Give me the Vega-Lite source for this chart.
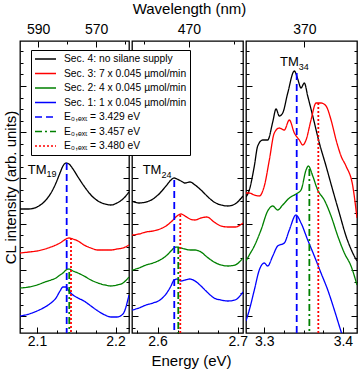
{
"$schema": "https://vega.github.io/schema/vega-lite/v6.json",
"padding": {"left": 2, "top": 0, "right": 2, "bottom": 0},
"spacing": 3,
"bounds": "flush",
"config": {
  "font": "Liberation Sans",
  "view": {"stroke": "black", "strokeWidth": 1.3},
  "axis": {"domain": false, "grid": false, "tickColor": "black", "tickWidth": 1, "labelColor": "black", "titleColor": "black", "labelFontSize": 14, "titleFontSize": 15, "titleFontWeight": "normal", "labelFlush": false, "labelOverlap": false, "labelBound": false},
  "legend": {"orient": "none", "legendX": 11, "legendY": 9, "fillColor": "white", "strokeColor": "black", "padding": 3, "symbolType": "stroke", "symbolSize": 441, "symbolStrokeWidth": 1.5, "labelFont": "Liberation Sans", "labelFontSize": 10.3, "labelColor": "black", "labelOffset": 7, "clipHeight": 12, "rowPadding": 2.5, "labelLimit": 250}
},
"datasets": {
"curves": [
{"p":1,"s":"Sec. 4: no silane supply","E":2.0784,"I":124},{"p":1,"s":"Sec. 4: no silane supply","E":2.0898,"I":124},{"p":1,"s":"Sec. 4: no silane supply","E":2.1,"I":126},{"p":1,"s":"Sec. 4: no silane supply","E":2.1102,"I":132},{"p":1,"s":"Sec. 4: no silane supply","E":2.1178,"I":140},{"p":1,"s":"Sec. 4: no silane supply","E":2.1242,"I":150},{"p":1,"s":"Sec. 4: no silane supply","E":2.1293,"I":160},{"p":1,"s":"Sec. 4: no silane supply","E":2.1331,"I":167},{"p":1,"s":"Sec. 4: no silane supply","E":2.1369,"I":170},{"p":1,"s":"Sec. 4: no silane supply","E":2.1407,"I":169},{"p":1,"s":"Sec. 4: no silane supply","E":2.1458,"I":164},{"p":1,"s":"Sec. 4: no silane supply","E":2.1522,"I":156},{"p":1,"s":"Sec. 4: no silane supply","E":2.1598,"I":147},{"p":1,"s":"Sec. 4: no silane supply","E":2.1687,"I":138},{"p":1,"s":"Sec. 4: no silane supply","E":2.1776,"I":132},{"p":1,"s":"Sec. 4: no silane supply","E":2.1865,"I":129},{"p":1,"s":"Sec. 4: no silane supply","E":2.1942,"I":128},{"p":1,"s":"Sec. 4: no silane supply","E":2.2018,"I":130},{"p":1,"s":"Sec. 4: no silane supply","E":2.2094,"I":134},{"p":1,"s":"Sec. 4: no silane supply","E":2.2171,"I":141},
{"p":1,"s":"Sec. 3: 7 x 0.045 µmol/min","E":2.0784,"I":80},{"p":1,"s":"Sec. 3: 7 x 0.045 µmol/min","E":2.0898,"I":81},{"p":1,"s":"Sec. 3: 7 x 0.045 µmol/min","E":2.1,"I":82},{"p":1,"s":"Sec. 3: 7 x 0.045 µmol/min","E":2.1102,"I":84},{"p":1,"s":"Sec. 3: 7 x 0.045 µmol/min","E":2.1178,"I":86},{"p":1,"s":"Sec. 3: 7 x 0.045 µmol/min","E":2.1242,"I":88},{"p":1,"s":"Sec. 3: 7 x 0.045 µmol/min","E":2.1293,"I":90},{"p":1,"s":"Sec. 3: 7 x 0.045 µmol/min","E":2.1331,"I":92},{"p":1,"s":"Sec. 3: 7 x 0.045 µmol/min","E":2.1369,"I":94},{"p":1,"s":"Sec. 3: 7 x 0.045 µmol/min","E":2.1407,"I":95},{"p":1,"s":"Sec. 3: 7 x 0.045 µmol/min","E":2.1458,"I":94},{"p":1,"s":"Sec. 3: 7 x 0.045 µmol/min","E":2.1522,"I":92},{"p":1,"s":"Sec. 3: 7 x 0.045 µmol/min","E":2.1598,"I":88},{"p":1,"s":"Sec. 3: 7 x 0.045 µmol/min","E":2.1687,"I":85},{"p":1,"s":"Sec. 3: 7 x 0.045 µmol/min","E":2.1776,"I":83},{"p":1,"s":"Sec. 3: 7 x 0.045 µmol/min","E":2.1865,"I":83},{"p":1,"s":"Sec. 3: 7 x 0.045 µmol/min","E":2.1942,"I":83},{"p":1,"s":"Sec. 3: 7 x 0.045 µmol/min","E":2.2018,"I":84},{"p":1,"s":"Sec. 3: 7 x 0.045 µmol/min","E":2.2094,"I":85},{"p":1,"s":"Sec. 3: 7 x 0.045 µmol/min","E":2.2171,"I":88},
{"p":1,"s":"Sec. 2: 4 x 0.045 µmol/min","E":2.0784,"I":45},{"p":1,"s":"Sec. 2: 4 x 0.045 µmol/min","E":2.0898,"I":46},{"p":1,"s":"Sec. 2: 4 x 0.045 µmol/min","E":2.1,"I":48},{"p":1,"s":"Sec. 2: 4 x 0.045 µmol/min","E":2.1102,"I":51},{"p":1,"s":"Sec. 2: 4 x 0.045 µmol/min","E":2.1178,"I":53},{"p":1,"s":"Sec. 2: 4 x 0.045 µmol/min","E":2.1242,"I":55},{"p":1,"s":"Sec. 2: 4 x 0.045 µmol/min","E":2.1293,"I":58},{"p":1,"s":"Sec. 2: 4 x 0.045 µmol/min","E":2.1331,"I":60},{"p":1,"s":"Sec. 2: 4 x 0.045 µmol/min","E":2.1369,"I":63},{"p":1,"s":"Sec. 2: 4 x 0.045 µmol/min","E":2.1407,"I":64},{"p":1,"s":"Sec. 2: 4 x 0.045 µmol/min","E":2.1458,"I":62},{"p":1,"s":"Sec. 2: 4 x 0.045 µmol/min","E":2.1522,"I":60},{"p":1,"s":"Sec. 2: 4 x 0.045 µmol/min","E":2.1598,"I":57},{"p":1,"s":"Sec. 2: 4 x 0.045 µmol/min","E":2.1687,"I":53},{"p":1,"s":"Sec. 2: 4 x 0.045 µmol/min","E":2.1776,"I":50},{"p":1,"s":"Sec. 2: 4 x 0.045 µmol/min","E":2.1865,"I":48},{"p":1,"s":"Sec. 2: 4 x 0.045 µmol/min","E":2.1942,"I":47},{"p":1,"s":"Sec. 2: 4 x 0.045 µmol/min","E":2.2018,"I":48},{"p":1,"s":"Sec. 2: 4 x 0.045 µmol/min","E":2.2094,"I":50},{"p":1,"s":"Sec. 2: 4 x 0.045 µmol/min","E":2.2171,"I":56},
{"p":1,"s":"Sec. 1: 1 x 0.045 µmol/min","E":2.0784,"I":17},{"p":1,"s":"Sec. 1: 1 x 0.045 µmol/min","E":2.0898,"I":19},{"p":1,"s":"Sec. 1: 1 x 0.045 µmol/min","E":2.1,"I":22},{"p":1,"s":"Sec. 1: 1 x 0.045 µmol/min","E":2.1102,"I":26},{"p":1,"s":"Sec. 1: 1 x 0.045 µmol/min","E":2.1178,"I":30},{"p":1,"s":"Sec. 1: 1 x 0.045 µmol/min","E":2.1242,"I":35},{"p":1,"s":"Sec. 1: 1 x 0.045 µmol/min","E":2.1293,"I":42},{"p":1,"s":"Sec. 1: 1 x 0.045 µmol/min","E":2.1331,"I":46},{"p":1,"s":"Sec. 1: 1 x 0.045 µmol/min","E":2.1369,"I":46},{"p":1,"s":"Sec. 1: 1 x 0.045 µmol/min","E":2.1407,"I":42},{"p":1,"s":"Sec. 1: 1 x 0.045 µmol/min","E":2.1458,"I":38},{"p":1,"s":"Sec. 1: 1 x 0.045 µmol/min","E":2.1522,"I":35},{"p":1,"s":"Sec. 1: 1 x 0.045 µmol/min","E":2.1598,"I":32},{"p":1,"s":"Sec. 1: 1 x 0.045 µmol/min","E":2.1687,"I":27},{"p":1,"s":"Sec. 1: 1 x 0.045 µmol/min","E":2.1776,"I":22},{"p":1,"s":"Sec. 1: 1 x 0.045 µmol/min","E":2.1865,"I":18},{"p":1,"s":"Sec. 1: 1 x 0.045 µmol/min","E":2.1942,"I":16},{"p":1,"s":"Sec. 1: 1 x 0.045 µmol/min","E":2.2018,"I":16},{"p":1,"s":"Sec. 1: 1 x 0.045 µmol/min","E":2.2094,"I":19},{"p":1,"s":"Sec. 1: 1 x 0.045 µmol/min","E":2.2171,"I":38},
{"p":2,"s":"Sec. 4: no silane supply","E":2.5682,"I":132},{"p":2,"s":"Sec. 4: no silane supply","E":2.5769,"I":130},{"p":2,"s":"Sec. 4: no silane supply","E":2.5857,"I":131},{"p":2,"s":"Sec. 4: no silane supply","E":2.5944,"I":134},{"p":2,"s":"Sec. 4: no silane supply","E":2.6031,"I":140},{"p":2,"s":"Sec. 4: no silane supply","E":2.6106,"I":147},{"p":2,"s":"Sec. 4: no silane supply","E":2.6168,"I":153},{"p":2,"s":"Sec. 4: no silane supply","E":2.6206,"I":155},{"p":2,"s":"Sec. 4: no silane supply","E":2.6243,"I":154},{"p":2,"s":"Sec. 4: no silane supply","E":2.6293,"I":152},{"p":2,"s":"Sec. 4: no silane supply","E":2.6343,"I":150},{"p":2,"s":"Sec. 4: no silane supply","E":2.6405,"I":151},{"p":2,"s":"Sec. 4: no silane supply","E":2.6468,"I":148},{"p":2,"s":"Sec. 4: no silane supply","E":2.6542,"I":143},{"p":2,"s":"Sec. 4: no silane supply","E":2.6617,"I":137},{"p":2,"s":"Sec. 4: no silane supply","E":2.6705,"I":131},{"p":2,"s":"Sec. 4: no silane supply","E":2.6792,"I":128},{"p":2,"s":"Sec. 4: no silane supply","E":2.6879,"I":127},{"p":2,"s":"Sec. 4: no silane supply","E":2.6966,"I":129},{"p":2,"s":"Sec. 4: no silane supply","E":2.7066,"I":137},
{"p":2,"s":"Sec. 3: 7 x 0.045 µmol/min","E":2.5682,"I":98},{"p":2,"s":"Sec. 3: 7 x 0.045 µmol/min","E":2.5769,"I":99},{"p":2,"s":"Sec. 3: 7 x 0.045 µmol/min","E":2.5857,"I":101},{"p":2,"s":"Sec. 3: 7 x 0.045 µmol/min","E":2.5944,"I":102},{"p":2,"s":"Sec. 3: 7 x 0.045 µmol/min","E":2.6031,"I":104},{"p":2,"s":"Sec. 3: 7 x 0.045 µmol/min","E":2.6106,"I":107},{"p":2,"s":"Sec. 3: 7 x 0.045 µmol/min","E":2.6168,"I":111},{"p":2,"s":"Sec. 3: 7 x 0.045 µmol/min","E":2.6206,"I":114},{"p":2,"s":"Sec. 3: 7 x 0.045 µmol/min","E":2.6243,"I":117},{"p":2,"s":"Sec. 3: 7 x 0.045 µmol/min","E":2.6293,"I":119},{"p":2,"s":"Sec. 3: 7 x 0.045 µmol/min","E":2.6343,"I":117},{"p":2,"s":"Sec. 3: 7 x 0.045 µmol/min","E":2.6405,"I":114},{"p":2,"s":"Sec. 3: 7 x 0.045 µmol/min","E":2.6468,"I":113},{"p":2,"s":"Sec. 3: 7 x 0.045 µmol/min","E":2.6542,"I":115},{"p":2,"s":"Sec. 3: 7 x 0.045 µmol/min","E":2.6617,"I":116},{"p":2,"s":"Sec. 3: 7 x 0.045 µmol/min","E":2.6705,"I":111},{"p":2,"s":"Sec. 3: 7 x 0.045 µmol/min","E":2.6792,"I":107},{"p":2,"s":"Sec. 3: 7 x 0.045 µmol/min","E":2.6879,"I":106},{"p":2,"s":"Sec. 3: 7 x 0.045 µmol/min","E":2.6966,"I":106},{"p":2,"s":"Sec. 3: 7 x 0.045 µmol/min","E":2.7066,"I":110},
{"p":2,"s":"Sec. 2: 4 x 0.045 µmol/min","E":2.5682,"I":63},{"p":2,"s":"Sec. 2: 4 x 0.045 µmol/min","E":2.5769,"I":65},{"p":2,"s":"Sec. 2: 4 x 0.045 µmol/min","E":2.5857,"I":68},{"p":2,"s":"Sec. 2: 4 x 0.045 µmol/min","E":2.5944,"I":70},{"p":2,"s":"Sec. 2: 4 x 0.045 µmol/min","E":2.6031,"I":73},{"p":2,"s":"Sec. 2: 4 x 0.045 µmol/min","E":2.6106,"I":77},{"p":2,"s":"Sec. 2: 4 x 0.045 µmol/min","E":2.6168,"I":82},{"p":2,"s":"Sec. 2: 4 x 0.045 µmol/min","E":2.6206,"I":85},{"p":2,"s":"Sec. 2: 4 x 0.045 µmol/min","E":2.6243,"I":86},{"p":2,"s":"Sec. 2: 4 x 0.045 µmol/min","E":2.6293,"I":85},{"p":2,"s":"Sec. 2: 4 x 0.045 µmol/min","E":2.6343,"I":84},{"p":2,"s":"Sec. 2: 4 x 0.045 µmol/min","E":2.6405,"I":83},{"p":2,"s":"Sec. 2: 4 x 0.045 µmol/min","E":2.6468,"I":83},{"p":2,"s":"Sec. 2: 4 x 0.045 µmol/min","E":2.6542,"I":81},{"p":2,"s":"Sec. 2: 4 x 0.045 µmol/min","E":2.6617,"I":76},{"p":2,"s":"Sec. 2: 4 x 0.045 µmol/min","E":2.6705,"I":71},{"p":2,"s":"Sec. 2: 4 x 0.045 µmol/min","E":2.6792,"I":68},{"p":2,"s":"Sec. 2: 4 x 0.045 µmol/min","E":2.6879,"I":67},{"p":2,"s":"Sec. 2: 4 x 0.045 µmol/min","E":2.6966,"I":68},{"p":2,"s":"Sec. 2: 4 x 0.045 µmol/min","E":2.7066,"I":75},
{"p":2,"s":"Sec. 1: 1 x 0.045 µmol/min","E":2.5682,"I":23},{"p":2,"s":"Sec. 1: 1 x 0.045 µmol/min","E":2.5769,"I":25},{"p":2,"s":"Sec. 1: 1 x 0.045 µmol/min","E":2.5857,"I":28},{"p":2,"s":"Sec. 1: 1 x 0.045 µmol/min","E":2.5944,"I":30},{"p":2,"s":"Sec. 1: 1 x 0.045 µmol/min","E":2.6031,"I":33},{"p":2,"s":"Sec. 1: 1 x 0.045 µmol/min","E":2.6106,"I":39},{"p":2,"s":"Sec. 1: 1 x 0.045 µmol/min","E":2.6168,"I":47},{"p":2,"s":"Sec. 1: 1 x 0.045 µmol/min","E":2.6206,"I":53},{"p":2,"s":"Sec. 1: 1 x 0.045 µmol/min","E":2.6243,"I":54},{"p":2,"s":"Sec. 1: 1 x 0.045 µmol/min","E":2.6293,"I":52},{"p":2,"s":"Sec. 1: 1 x 0.045 µmol/min","E":2.6343,"I":53},{"p":2,"s":"Sec. 1: 1 x 0.045 µmol/min","E":2.6405,"I":54},{"p":2,"s":"Sec. 1: 1 x 0.045 µmol/min","E":2.6468,"I":52},{"p":2,"s":"Sec. 1: 1 x 0.045 µmol/min","E":2.6542,"I":47},{"p":2,"s":"Sec. 1: 1 x 0.045 µmol/min","E":2.6617,"I":41},{"p":2,"s":"Sec. 1: 1 x 0.045 µmol/min","E":2.6705,"I":35},{"p":2,"s":"Sec. 1: 1 x 0.045 µmol/min","E":2.6792,"I":33},{"p":2,"s":"Sec. 1: 1 x 0.045 µmol/min","E":2.6879,"I":32},{"p":2,"s":"Sec. 1: 1 x 0.045 µmol/min","E":2.6966,"I":33},{"p":2,"s":"Sec. 1: 1 x 0.045 µmol/min","E":2.7066,"I":41},
{"p":3,"s":"Sec. 4: no silane supply","E":3.2767,"I":136},{"p":3,"s":"Sec. 4: no silane supply","E":3.2809,"I":143},{"p":3,"s":"Sec. 4: no silane supply","E":3.2873,"I":167},{"p":3,"s":"Sec. 4: no silane supply","E":3.2916,"I":187},{"p":3,"s":"Sec. 4: no silane supply","E":3.298,"I":193},{"p":3,"s":"Sec. 4: no silane supply","E":3.3043,"I":193},{"p":3,"s":"Sec. 4: no silane supply","E":3.3107,"I":211},{"p":3,"s":"Sec. 4: no silane supply","E":3.3149,"I":224},{"p":3,"s":"Sec. 4: no silane supply","E":3.3191,"I":217},{"p":3,"s":"Sec. 4: no silane supply","E":3.3234,"I":220},{"p":3,"s":"Sec. 4: no silane supply","E":3.3298,"I":240},{"p":3,"s":"Sec. 4: no silane supply","E":3.3382,"I":262},{"p":3,"s":"Sec. 4: no silane supply","E":3.3425,"I":254},{"p":3,"s":"Sec. 4: no silane supply","E":3.3467,"I":245},{"p":3,"s":"Sec. 4: no silane supply","E":3.3509,"I":250},{"p":3,"s":"Sec. 4: no silane supply","E":3.3552,"I":237},{"p":3,"s":"Sec. 4: no silane supply","E":3.3616,"I":217},{"p":3,"s":"Sec. 4: no silane supply","E":3.37,"I":190},{"p":3,"s":"Sec. 4: no silane supply","E":3.3785,"I":167},{"p":3,"s":"Sec. 4: no silane supply","E":3.387,"I":143},{"p":3,"s":"Sec. 4: no silane supply","E":3.3954,"I":120},{"p":3,"s":"Sec. 4: no silane supply","E":3.4039,"I":97},{"p":3,"s":"Sec. 4: no silane supply","E":3.4125,"I":80},{"p":3,"s":"Sec. 4: no silane supply","E":3.4179,"I":72},
{"p":3,"s":"Sec. 3: 7 x 0.045 µmol/min","E":3.2767,"I":140},{"p":3,"s":"Sec. 3: 7 x 0.045 µmol/min","E":3.2809,"I":140},{"p":3,"s":"Sec. 3: 7 x 0.045 µmol/min","E":3.2873,"I":138},{"p":3,"s":"Sec. 3: 7 x 0.045 µmol/min","E":3.2936,"I":137},{"p":3,"s":"Sec. 3: 7 x 0.045 µmol/min","E":3.3,"I":147},{"p":3,"s":"Sec. 3: 7 x 0.045 µmol/min","E":3.3064,"I":173},{"p":3,"s":"Sec. 3: 7 x 0.045 µmol/min","E":3.3127,"I":200},{"p":3,"s":"Sec. 3: 7 x 0.045 µmol/min","E":3.3191,"I":205},{"p":3,"s":"Sec. 3: 7 x 0.045 µmol/min","E":3.3254,"I":203},{"p":3,"s":"Sec. 3: 7 x 0.045 µmol/min","E":3.3318,"I":213},{"p":3,"s":"Sec. 3: 7 x 0.045 µmol/min","E":3.3382,"I":200},{"p":3,"s":"Sec. 3: 7 x 0.045 µmol/min","E":3.3445,"I":193},{"p":3,"s":"Sec. 3: 7 x 0.045 µmol/min","E":3.3489,"I":188},{"p":3,"s":"Sec. 3: 7 x 0.045 µmol/min","E":3.3531,"I":193},{"p":3,"s":"Sec. 3: 7 x 0.045 µmol/min","E":3.3594,"I":213},{"p":3,"s":"Sec. 3: 7 x 0.045 µmol/min","E":3.3658,"I":230},{"p":3,"s":"Sec. 3: 7 x 0.045 µmol/min","E":3.3721,"I":230},{"p":3,"s":"Sec. 3: 7 x 0.045 µmol/min","E":3.3785,"I":227},{"p":3,"s":"Sec. 3: 7 x 0.045 µmol/min","E":3.3849,"I":213},{"p":3,"s":"Sec. 3: 7 x 0.045 µmol/min","E":3.3913,"I":193},{"p":3,"s":"Sec. 3: 7 x 0.045 µmol/min","E":3.3976,"I":177},{"p":3,"s":"Sec. 3: 7 x 0.045 µmol/min","E":3.4039,"I":167},{"p":3,"s":"Sec. 3: 7 x 0.045 µmol/min","E":3.4125,"I":147},{"p":3,"s":"Sec. 3: 7 x 0.045 µmol/min","E":3.4179,"I":115},
{"p":3,"s":"Sec. 2: 4 x 0.045 µmol/min","E":3.2767,"I":72},{"p":3,"s":"Sec. 2: 4 x 0.045 µmol/min","E":3.2809,"I":78},{"p":3,"s":"Sec. 2: 4 x 0.045 µmol/min","E":3.2873,"I":87},{"p":3,"s":"Sec. 2: 4 x 0.045 µmol/min","E":3.2958,"I":103},{"p":3,"s":"Sec. 2: 4 x 0.045 µmol/min","E":3.3043,"I":122},{"p":3,"s":"Sec. 2: 4 x 0.045 µmol/min","E":3.3107,"I":127},{"p":3,"s":"Sec. 2: 4 x 0.045 µmol/min","E":3.317,"I":123},{"p":3,"s":"Sec. 2: 4 x 0.045 µmol/min","E":3.3234,"I":128},{"p":3,"s":"Sec. 2: 4 x 0.045 µmol/min","E":3.3318,"I":135},{"p":3,"s":"Sec. 2: 4 x 0.045 µmol/min","E":3.3403,"I":139},{"p":3,"s":"Sec. 2: 4 x 0.045 µmol/min","E":3.3467,"I":143},{"p":3,"s":"Sec. 2: 4 x 0.045 µmol/min","E":3.3531,"I":163},{"p":3,"s":"Sec. 2: 4 x 0.045 µmol/min","E":3.356,"I":167},{"p":3,"s":"Sec. 2: 4 x 0.045 µmol/min","E":3.3616,"I":157},{"p":3,"s":"Sec. 2: 4 x 0.045 µmol/min","E":3.3679,"I":143},{"p":3,"s":"Sec. 2: 4 x 0.045 µmol/min","E":3.3763,"I":133},{"p":3,"s":"Sec. 2: 4 x 0.045 µmol/min","E":3.3849,"I":117},{"p":3,"s":"Sec. 2: 4 x 0.045 µmol/min","E":3.3934,"I":97},{"p":3,"s":"Sec. 2: 4 x 0.045 µmol/min","E":3.4018,"I":80},{"p":3,"s":"Sec. 2: 4 x 0.045 µmol/min","E":3.4103,"I":67},{"p":3,"s":"Sec. 2: 4 x 0.045 µmol/min","E":3.4179,"I":48},
{"p":3,"s":"Sec. 1: 1 x 0.045 µmol/min","E":3.2767,"I":12},{"p":3,"s":"Sec. 1: 1 x 0.045 µmol/min","E":3.2809,"I":23},{"p":3,"s":"Sec. 1: 1 x 0.045 µmol/min","E":3.2873,"I":43},{"p":3,"s":"Sec. 1: 1 x 0.045 µmol/min","E":3.2936,"I":63},{"p":3,"s":"Sec. 1: 1 x 0.045 µmol/min","E":3.3,"I":70},{"p":3,"s":"Sec. 1: 1 x 0.045 µmol/min","E":3.3043,"I":67},{"p":3,"s":"Sec. 1: 1 x 0.045 µmol/min","E":3.3107,"I":77},{"p":3,"s":"Sec. 1: 1 x 0.045 µmol/min","E":3.317,"I":87},{"p":3,"s":"Sec. 1: 1 x 0.045 µmol/min","E":3.3254,"I":90},{"p":3,"s":"Sec. 1: 1 x 0.045 µmol/min","E":3.3318,"I":103},{"p":3,"s":"Sec. 1: 1 x 0.045 µmol/min","E":3.3403,"I":118},{"p":3,"s":"Sec. 1: 1 x 0.045 µmol/min","E":3.3467,"I":110},{"p":3,"s":"Sec. 1: 1 x 0.045 µmol/min","E":3.3552,"I":93},{"p":3,"s":"Sec. 1: 1 x 0.045 µmol/min","E":3.3636,"I":77},{"p":3,"s":"Sec. 1: 1 x 0.045 µmol/min","E":3.3721,"I":60},{"p":3,"s":"Sec. 1: 1 x 0.045 µmol/min","E":3.3807,"I":43},{"p":3,"s":"Sec. 1: 1 x 0.045 µmol/min","E":3.3891,"I":23},{"p":3,"s":"Sec. 1: 1 x 0.045 µmol/min","E":3.3954,"I":7},{"p":3,"s":"Sec. 1: 1 x 0.045 µmol/min","E":3.399,"I":-2}
],
"rules": [
{"p":1,"s":"E₀,ₑₓₜ = 3.429 eV","E":2.1378,"I":170},{"p":1,"s":"E₀,ₑₓₜ = 3.457 eV","E":2.1411,"I":61},{"p":1,"s":"E₀,ₑₓₜ = 3.480 eV","E":2.1433,"I":95},
{"p":2,"s":"E₀,ₑₓₜ = 3.429 eV","E":2.6209,"I":153},{"p":2,"s":"E₀,ₑₓₜ = 3.457 eV","E":2.6259,"I":86},{"p":2,"s":"E₀,ₑₓₜ = 3.480 eV","E":2.6284,"I":118},
{"p":3,"s":"E₀,ₑₓₜ = 3.429 eV","E":3.3412,"I":260},{"p":3,"s":"E₀,ₑₓₜ = 3.457 eV","E":3.3573,"I":164},{"p":3,"s":"E₀,ₑₓₜ = 3.480 eV","E":3.3687,"I":230}
],
"labels": [
{"p":1,"t":"TM","sub":"19","E":2.0882,"I":159,"Es":2.1121,"Is":156},
{"p":2,"t":"TM","sub":"24","E":2.5815,"I":159,"Es":2.605,"Is":155},
{"p":3,"t":"TM","sub":"34","E":3.32,"I":267,"Es":3.3439,"Is":263}
]
},
"resolve": {"scale": {"color": "shared", "strokeDash": "shared"}},
"hconcat": [
{
 "width": 109, "height": 292,
 "resolve": {"scale": {"x": "independent"}, "axis": {"y": "independent"}},
 "layer": [
   {"data": {"name": "curves"}, "transform": [{"filter": "datum.p==1"}],
    "mark": {"type": "line", "clip": true, "strokeWidth": 1.3, "interpolate": "monotone"},
    "encoding": {
     "x": {"field": "E", "type": "quantitative", "scale": {"domain": [2.0784, 2.2171], "nice": false, "zero": false},
       "axis": {"orient": "bottom", "title": null, "values": [2.1, 2.125, 2.15, 2.175, 2.2], "format": ".1f", "labelExpr": "(datum.value==2.1||datum.value==2.2)?datum.label:''", "tickSize": {"condition": {"test": "datum.value==2.1||datum.value==2.2", "value": -6}, "value": -3}, "labelPadding": 7}},
     "y": {"field": "I", "type": "quantitative", "scale": {"domain": [0, 292], "nice": false, "zero": false},
       "axis": {"orient": "left", "title": "CL intensity (arb. units)", "titlePadding": 1, "labels": false, "values": [5.5,17,28.5,40,51.5,63,74.5,86,97.5,109,120.5,132,143.5,155,166.5,178,189.5,201,212.5,224,235.5,247,258.5,270,281.5], "tickSize": {"condition": {"test": "indexof([17,63,109,155,201,247],datum.value)>=0", "value": -6}, "value": -3}}},
     "color": {"field": "s", "type": "nominal", "title": null, "scale": {"domain": ["Sec. 4: no silane supply","Sec. 3: 7 x 0.045 µmol/min","Sec. 2: 4 x 0.045 µmol/min","Sec. 1: 1 x 0.045 µmol/min","E₀,ₑₓₜ = 3.429 eV","E₀,ₑₓₜ = 3.457 eV","E₀,ₑₓₜ = 3.480 eV"], "range": ["#000000","#ff0000","#008000","#0000ff","#0000ff","#008000","#ff0000"]}},
     "strokeDash": {"field": "s", "type": "nominal", "title": null, "scale": {"domain": ["Sec. 4: no silane supply","Sec. 3: 7 x 0.045 µmol/min","Sec. 2: 4 x 0.045 µmol/min","Sec. 1: 1 x 0.045 µmol/min","E₀,ₑₓₜ = 3.429 eV","E₀,ₑₓₜ = 3.457 eV","E₀,ₑₓₜ = 3.480 eV"], "range": [[1,0],[1,0],[1,0],[1,0],[7,4],[7,3,2,3],[2,2]]}}
    }},
   {"data": {"name": "rules"}, "transform": [{"filter": "datum.p==1"}],
    "mark": {"type": "rule", "clip": true, "strokeWidth": 1.8},
    "encoding": {
     "x": {"field": "E", "type": "quantitative", "scale": {"domain": [2.0784, 2.2171], "nice": false, "zero": false}, "axis": null},
     "y": {"field": "I", "type": "quantitative", "scale": {"domain": [0, 292], "nice": false, "zero": false}, "axis": null},
     "y2": {"datum": 0},
     "color": {"field": "s", "type": "nominal", "title": null},
     "strokeDash": {"field": "s", "type": "nominal", "title": null}
    }},
   {"data": {"name": "labels"}, "transform": [{"filter": "datum.p==1"}],
    "mark": {"type": "text", "align": "left", "baseline": "alphabetic", "fontSize": 13, "color": "black"},
    "encoding": {
     "x": {"field": "E", "type": "quantitative", "scale": {"domain": [2.0784, 2.2171], "nice": false, "zero": false}, "axis": null},
     "y": {"field": "I", "type": "quantitative", "scale": {"domain": [0, 292], "nice": false, "zero": false}, "axis": null},
     "text": {"field": "t"}
    }},
   {"data": {"name": "labels"}, "transform": [{"filter": "datum.p==1"}],
    "mark": {"type": "text", "align": "left", "baseline": "alphabetic", "fontSize": 9, "color": "black"},
    "encoding": {
     "x": {"field": "Es", "type": "quantitative", "scale": {"domain": [2.0784, 2.2171], "nice": false, "zero": false}, "axis": null},
     "y": {"field": "Is", "type": "quantitative", "scale": {"domain": [0, 292], "nice": false, "zero": false}, "axis": null},
     "text": {"field": "sub"}
    }},
  {"data": {"values": [{"wl": 590, "I": 0}, {"wl": 580, "I": 0}, {"wl": 570, "I": 0}, {"wl": 560, "I": 0}]},
   "mark": {"type": "point", "opacity": 0},
   "encoding": {
    "x": {"field": "wl", "type": "quantitative", "scale": {"domain": [596.24, 558.66], "nice": false, "zero": false},
      "axis": {"orient": "top", "title": null, "values": [590, 580, 570, 560], "format": "d", "labelExpr": "(datum.value==590||datum.value==570)?datum.label:''", "tickSize": {"condition": {"test": "datum.value==590||datum.value==570", "value": -6}, "value": -3}, "labelPadding": 10.5}},
    "y": {"field": "I", "type": "quantitative", "scale": {"domain": [0, 292], "nice": false, "zero": false},
      "axis": {"orient": "right", "title": null, "labels": false, "values": [5.5,17,28.5,40,51.5,63,74.5,86,97.5,109,120.5,132,143.5,155,166.5,178,189.5,201,212.5,224,235.5,247,258.5,270,281.5], "tickSize": {"condition": {"test": "indexof([17,63,109,155,201,247],datum.value)>=0", "value": -6}, "value": -3}}}
   }}
 ]
},
{
 "width": 111, "height": 292,
 "resolve": {"scale": {"x": "independent"}, "axis": {"y": "independent"}},
 "layer": [
   {"data": {"name": "curves"}, "transform": [{"filter": "datum.p==2"}],
    "mark": {"type": "line", "clip": true, "strokeWidth": 1.3, "interpolate": "monotone"},
    "encoding": {
     "x": {"field": "E", "type": "quantitative", "scale": {"domain": [2.5682, 2.7066], "nice": false, "zero": false},
       "axis": {"orient": "bottom", "title": "Energy (eV)", "titleX": 59, "titlePadding": 2.5, "values": [2.575, 2.6, 2.625, 2.65, 2.675, 2.7], "format": ".1f", "labelExpr": "(datum.value==2.6||datum.value==2.7)?datum.label:''", "tickSize": {"condition": {"test": "datum.value==2.6||datum.value==2.7", "value": -6}, "value": -3}, "labelPadding": 7}},
     "y": {"field": "I", "type": "quantitative", "scale": {"domain": [0, 292], "nice": false, "zero": false},
       "axis": {"orient": "left", "title": null, "labels": false, "values": [5.5,17,28.5,40,51.5,63,74.5,86,97.5,109,120.5,132,143.5,155,166.5,178,189.5,201,212.5,224,235.5,247,258.5,270,281.5], "tickSize": {"condition": {"test": "indexof([17,63,109,155,201,247],datum.value)>=0", "value": -6}, "value": -3}}},
     "color": {"field": "s", "type": "nominal", "title": null},
     "strokeDash": {"field": "s", "type": "nominal", "title": null}
    }},
   {"data": {"name": "rules"}, "transform": [{"filter": "datum.p==2"}],
    "mark": {"type": "rule", "clip": true, "strokeWidth": 1.8},
    "encoding": {
     "x": {"field": "E", "type": "quantitative", "scale": {"domain": [2.5682, 2.7066], "nice": false, "zero": false}, "axis": null},
     "y": {"field": "I", "type": "quantitative", "scale": {"domain": [0, 292], "nice": false, "zero": false}, "axis": null},
     "y2": {"datum": 0},
     "color": {"field": "s", "type": "nominal", "title": null},
     "strokeDash": {"field": "s", "type": "nominal", "title": null}
    }},
   {"data": {"name": "labels"}, "transform": [{"filter": "datum.p==2"}],
    "mark": {"type": "text", "align": "left", "baseline": "alphabetic", "fontSize": 13, "color": "black"},
    "encoding": {
     "x": {"field": "E", "type": "quantitative", "scale": {"domain": [2.5682, 2.7066], "nice": false, "zero": false}, "axis": null},
     "y": {"field": "I", "type": "quantitative", "scale": {"domain": [0, 292], "nice": false, "zero": false}, "axis": null},
     "text": {"field": "t"}
    }},
   {"data": {"name": "labels"}, "transform": [{"filter": "datum.p==2"}],
    "mark": {"type": "text", "align": "left", "baseline": "alphabetic", "fontSize": 9, "color": "black"},
    "encoding": {
     "x": {"field": "Es", "type": "quantitative", "scale": {"domain": [2.5682, 2.7066], "nice": false, "zero": false}, "axis": null},
     "y": {"field": "Is", "type": "quantitative", "scale": {"domain": [0, 292], "nice": false, "zero": false}, "axis": null},
     "text": {"field": "sub"}
    }},
  {"data": {"values": [{"wl": 480, "I": 0}, {"wl": 470, "I": 0}, {"wl": 460, "I": 0}]},
   "mark": {"type": "point", "opacity": 0},
   "encoding": {
    "x": {"field": "wl", "type": "quantitative", "scale": {"domain": [482.64, 457.98], "nice": false, "zero": false},
      "axis": {"orient": "top", "title": "Wavelength (nm)", "titleX": 57, "titlePadding": 3, "values": [480, 470, 460], "format": "d", "labelExpr": "datum.value==470?datum.label:''", "tickSize": {"condition": {"test": "datum.value==470", "value": -6}, "value": -3}, "labelPadding": 10.5}},
    "y": {"field": "I", "type": "quantitative", "scale": {"domain": [0, 292], "nice": false, "zero": false},
      "axis": {"orient": "right", "title": null, "labels": false, "values": [5.5,17,28.5,40,51.5,63,74.5,86,97.5,109,120.5,132,143.5,155,166.5,178,189.5,201,212.5,224,235.5,247,258.5,270,281.5], "tickSize": {"condition": {"test": "indexof([17,63,109,155,201,247],datum.value)>=0", "value": -6}, "value": -3}}}
   }}
 ]
},
{
 "width": 111, "height": 292,
 "resolve": {"scale": {"x": "independent"}, "axis": {"y": "independent"}},
 "layer": [
   {"data": {"name": "curves"}, "transform": [{"filter": "datum.p==3"}],
    "mark": {"type": "line", "clip": true, "strokeWidth": 1.3, "interpolate": "monotone"},
    "encoding": {
     "x": {"field": "E", "type": "quantitative", "scale": {"domain": [3.2767, 3.4179], "nice": false, "zero": false},
       "axis": {"orient": "bottom", "title": null, "values": [3.3, 3.325, 3.35, 3.375, 3.4], "format": ".1f", "labelExpr": "(datum.value==3.3||datum.value==3.4)?datum.label:''", "tickSize": {"condition": {"test": "datum.value==3.3||datum.value==3.4", "value": -6}, "value": -3}, "labelPadding": 7}},
     "y": {"field": "I", "type": "quantitative", "scale": {"domain": [0, 292], "nice": false, "zero": false},
       "axis": {"orient": "left", "title": null, "labels": false, "values": [5.5,17,28.5,40,51.5,63,74.5,86,97.5,109,120.5,132,143.5,155,166.5,178,189.5,201,212.5,224,235.5,247,258.5,270,281.5], "tickSize": {"condition": {"test": "indexof([17,63,109,155,201,247],datum.value)>=0", "value": -6}, "value": -3}}},
     "color": {"field": "s", "type": "nominal", "title": null},
     "strokeDash": {"field": "s", "type": "nominal", "title": null}
    }},
   {"data": {"name": "rules"}, "transform": [{"filter": "datum.p==3"}],
    "mark": {"type": "rule", "clip": true, "strokeWidth": 1.8},
    "encoding": {
     "x": {"field": "E", "type": "quantitative", "scale": {"domain": [3.2767, 3.4179], "nice": false, "zero": false}, "axis": null},
     "y": {"field": "I", "type": "quantitative", "scale": {"domain": [0, 292], "nice": false, "zero": false}, "axis": null},
     "y2": {"datum": 0},
     "color": {"field": "s", "type": "nominal", "title": null},
     "strokeDash": {"field": "s", "type": "nominal", "title": null}
    }},
   {"data": {"name": "labels"}, "transform": [{"filter": "datum.p==3"}],
    "mark": {"type": "text", "align": "left", "baseline": "alphabetic", "fontSize": 13, "color": "black"},
    "encoding": {
     "x": {"field": "E", "type": "quantitative", "scale": {"domain": [3.2767, 3.4179], "nice": false, "zero": false}, "axis": null},
     "y": {"field": "I", "type": "quantitative", "scale": {"domain": [0, 292], "nice": false, "zero": false}, "axis": null},
     "text": {"field": "t"}
    }},
   {"data": {"name": "labels"}, "transform": [{"filter": "datum.p==3"}],
    "mark": {"type": "text", "align": "left", "baseline": "alphabetic", "fontSize": 9, "color": "black"},
    "encoding": {
     "x": {"field": "Es", "type": "quantitative", "scale": {"domain": [3.2767, 3.4179], "nice": false, "zero": false}, "axis": null},
     "y": {"field": "Is", "type": "quantitative", "scale": {"domain": [0, 292], "nice": false, "zero": false}, "axis": null},
     "text": {"field": "sub"}
    }},
  {"data": {"values": [{"wl": 370, "I": 0}]},
   "mark": {"type": "point", "opacity": 0},
   "encoding": {
    "x": {"field": "wl", "type": "quantitative", "scale": {"domain": [378.19, 362.6], "nice": false, "zero": false},
      "axis": {"orient": "top", "title": null, "values": [370], "format": "d", "tickSize": -6, "labelPadding": 10.5}},
    "y": {"field": "I", "type": "quantitative", "scale": {"domain": [0, 292], "nice": false, "zero": false},
      "axis": {"orient": "right", "title": null, "labels": false, "values": [5.5,17,28.5,40,51.5,63,74.5,86,97.5,109,120.5,132,143.5,155,166.5,178,189.5,201,212.5,224,235.5,247,258.5,270,281.5], "tickSize": {"condition": {"test": "indexof([17,63,109,155,201,247],datum.value)>=0", "value": -6}, "value": -3}}}
   }}
 ]
}
]
}
